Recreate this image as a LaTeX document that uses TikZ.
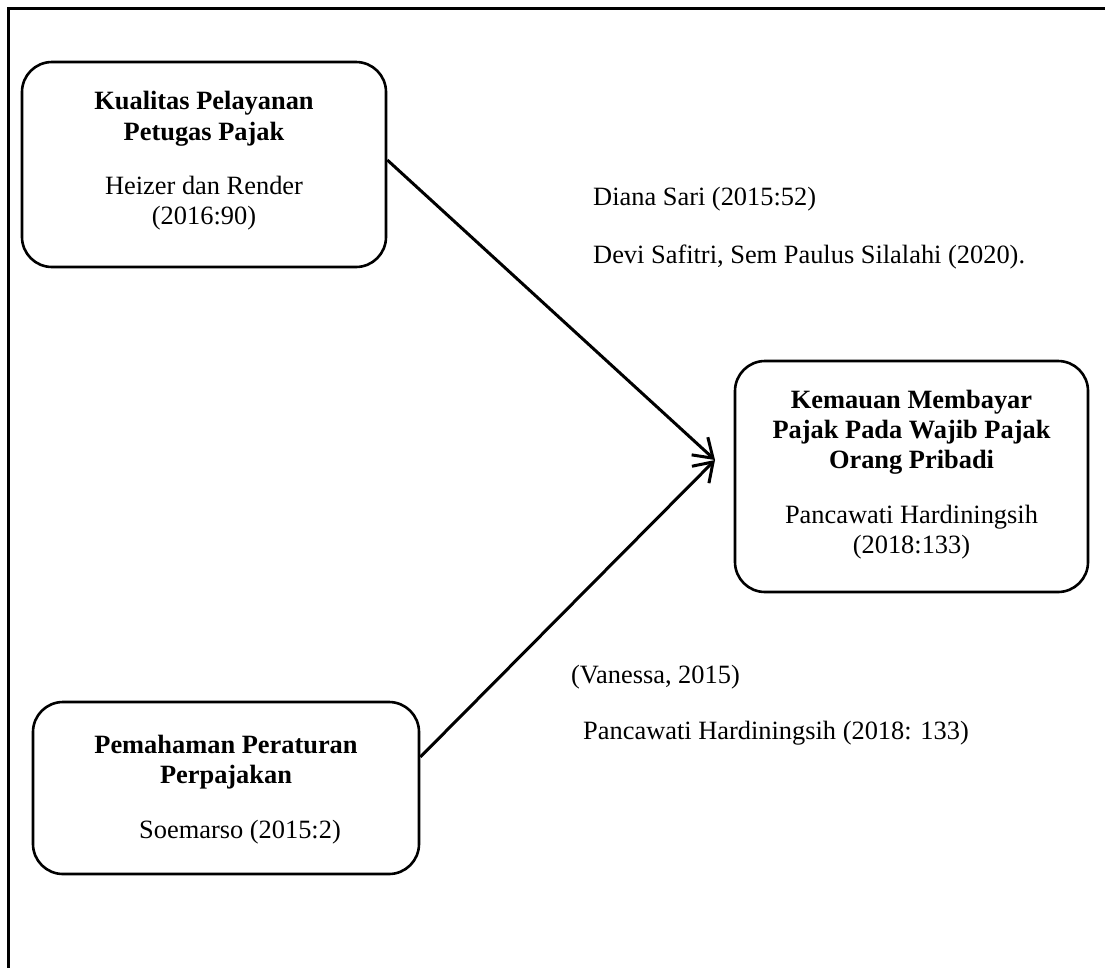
\documentclass[tikz,border=0pt]{standalone}
\usepackage{fontspec}
\setmainfont{Liberation Serif}
\usetikzlibrary{arrows.meta}
\tikzset{
  box/.style={draw, line width=2.6pt, rounded corners=30pt, inner sep=0pt},
  ln/.style={anchor=base, font=\fontsize{26.4}{30}\selectfont, inner sep=0pt},
  bln/.style={ln, font=\fontsize{26.4}{30}\selectfont\bfseries},
  lbl/.style={anchor=base west, font=\fontsize{26.4}{30}\selectfont, inner sep=0pt},
  conn/.style={line width=3pt, -{Straight Barb[length=18pt, width=24pt, line width=3pt]}}
}
\begin{document}
\begin{tikzpicture}[x=1pt, y=-1pt]
\useasboundingbox (0,0) rectangle (1105,967);
% frame
\draw[line width=3pt] (8.5,990) -- (8.5,8.5) -- (1130,8.5);
% boxes
\node[box, minimum width=364pt, minimum height=205pt] (b1) at (204,164.5) {};
\node[box, minimum width=386pt, minimum height=172pt] (b2) at (226,788) {};
\node[box, minimum width=353pt, minimum height=231pt] (b3) at (911.5,476.5) {};
% box 1 texts
\node[bln] (t1a) at (204,109) {Kualitas Pelayanan};
\node[bln] (t1b) at (204,140) {Petugas Pajak};
\node[ln] (c1a) at (204,194) {Heizer dan Render};
\node[ln] (c1b) at (204,224) {(2016:90)};
% box 3 texts
\node[bln] (t3a) at (911.5,408) {Kemauan Membayar};
\node[bln] (t3b) at (911.5,438) {Pajak Pada Wajib Pajak};
\node[bln] (t3c) at (911.5,468) {Orang Pribadi};
\node[ln] (c3a) at (911.5,523) {Pancawati Hardiningsih};
\node[ln] (c3b) at (911.5,553) {(2018:133)};
% box 2 texts
\node[bln] (t2a) at (226,753) {Pemahaman Peraturan};
\node[bln] (t2b) at (226,783) {Perpajakan};
\node[ln] (c2a) at (240,838) {Soemarso (2015:2)};
% labels
\node[lbl] (l1) at (593,205) {Diana Sari (2015:52)};
\node[lbl] (l2) at (593,263) {Devi Safitri, Sem Paulus Silalahi (2020).};
\node[lbl] (l3) at (571,683) {(Vanessa, 2015)};
\node[lbl] (l4) at (583,739) {Pancawati Hardiningsih (2018: 133)};
% connectors
\coordinate (tip) at (715,460);
\draw[conn] ([yshift=4.5pt]b1.east) -- (tip);
\draw[conn] ([yshift=31pt]b2.east) -- (tip);
\end{tikzpicture}
\end{document}
